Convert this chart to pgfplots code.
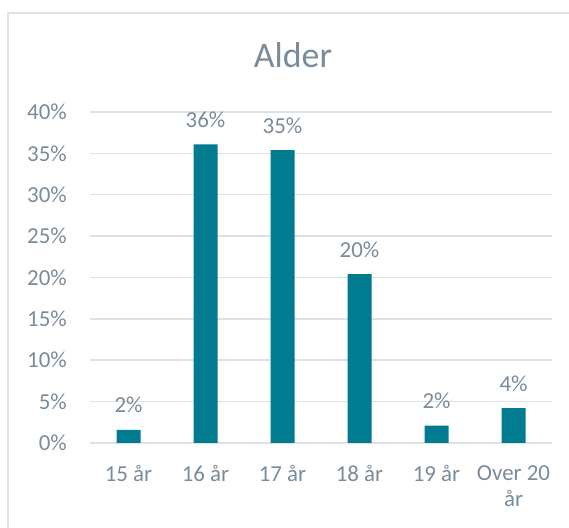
\documentclass[border=0pt]{standalone}
\usepackage{pgfplots}
\pgfplotsset{compat=1.18}
\usepackage{fontspec}
\setmainfont{Carlito}
\definecolor{txt}{HTML}{7A8B9A}
\definecolor{barc}{HTML}{007B8F}
\definecolor{gridc}{HTML}{DDE2E6}
\definecolor{framec}{HTML}{DDE2E6}
\begin{document}
\begin{tikzpicture}[x=1bp,y=1bp]
\useasboundingbox (0,0) rectangle (569,528);
\draw[framec, line width=1.5bp] (8,0) -- (8,515) -- (569,515);
\node[txt, anchor=base, inner sep=0pt, font=\fontsize{36}{42}\selectfont] at (293,460) {Alder};
\begin{axis}[
  at={(90bp,85bp)}, anchor=south west,
  scale only axis, width=462bp, height=331bp,
  xmin=-0.5, xmax=5.5, ymin=0, ymax=40,
  ytick={0,5,...,40},
  yticklabel={\pgfmathprintnumber{\tick}\%},
  xtick={0,1,2,3,4,5},
  xticklabels={15 år,16 år,17 år,18 år,19 år,Over 20\\år},
  /pgf/number format/assume math mode=true,
  axis line style={draw=none},
  major tick length=0pt,
  ymajorgrids, grid style={gridc, line width=1.5bp},
  tick label style={txt, font=\fontsize{23}{27}\selectfont},
  yticklabel style={anchor=east, inner sep=0pt, xshift=-23bp},
  xticklabel style={anchor=north, inner sep=0pt, yshift=-22bp, align=center},
  ybar, bar width=24bp,
  nodes near coords={\pgfmathprintnumber[fixed,precision=0]{\pgfplotspointmeta}\%},
  every node near coord/.append style={txt, anchor=base, inner sep=0pt, yshift=17bp, font=\fontsize{23}{27}\selectfont},
  clip=false,
]
\addplot[fill=barc, draw=none] coordinates {(0,1.6) (1,36.1) (2,35.4) (3,20.4) (4,2.1) (5,4.2)};
\end{axis}
\end{tikzpicture}
\end{document}
